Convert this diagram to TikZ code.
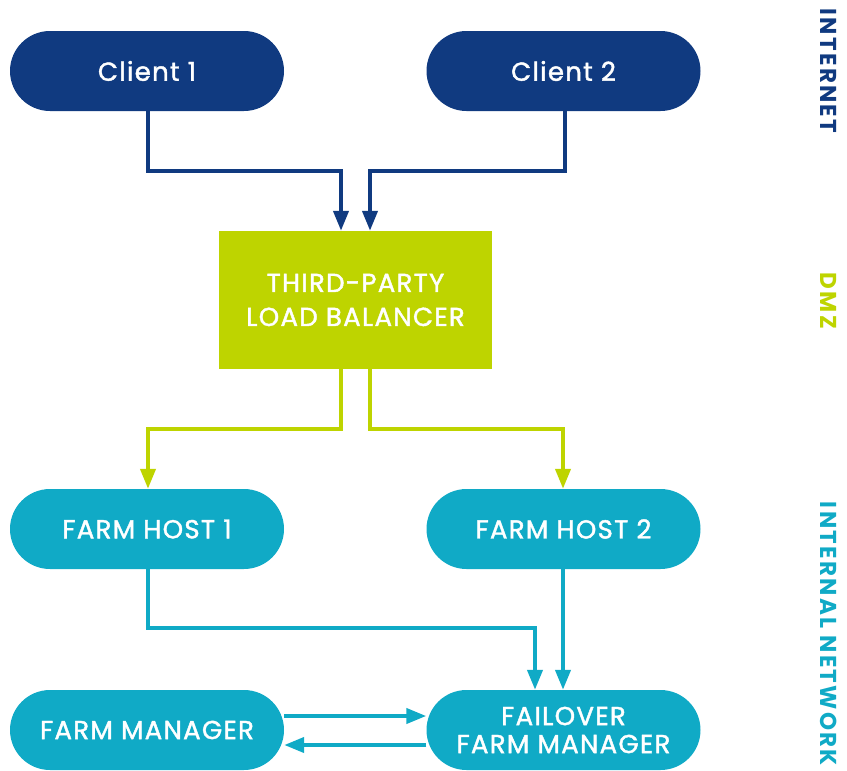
\documentclass[tikz,border=0pt]{standalone}
\usepackage{fontspec}
\setmainfont{Poppins}
\usetikzlibrary{arrows.meta}
\definecolor{netblue}{RGB}{16,58,128}
\definecolor{dmzgreen}{RGB}{190,212,0}
\definecolor{lanteal}{RGB}{16,170,198}
\newfontfamily\boxfont[LetterSpace=5,FakeBold=1.6]{Poppins}
\newfontfamily\zonefont[LetterSpace=10]{Poppins}
\tikzset{
  pill/.style={rounded corners=40pt, minimum width=274pt, minimum height=80pt,
    inner sep=0pt, text=white, font=\boxfont\fontsize{26}{28}\selectfont, align=center},
  lbbox/.style={minimum width=273pt, minimum height=138pt, inner sep=0pt,
    text=white, font=\boxfont\fontsize{26}{34}\selectfont, align=center, fill=dmzgreen},
  link/.style={line width=4pt, -{Triangle[length=20pt,width=15pt]}},
  zone/.style={rotate=-90, font=\zonefont\bfseries\fontsize{23}{25}\selectfont}
}
\begin{document}
\begin{tikzpicture}[x=1pt,y=-1pt]
  \useasboundingbox (0,0) rectangle (847,771);
  % boxes
  \node[pill, fill=netblue] (c1) at (147,71) {Client 1};
  \node[pill, fill=netblue] (c2) at (563.5,71) {Client 2};
  \node[lbbox] (lb) at (355.5,300) {THIRD-PARTY\\LOAD BALANCER};
  \node[pill, fill=lanteal] (h1) at (147,529) {FARM HOST 1};
  \node[pill, fill=lanteal] (h2) at (563.5,529) {FARM HOST 2};
  \node[pill, fill=lanteal] (fm) at (147,730) {FARM MANAGER};
  \node[pill, fill=lanteal] (ffm) at (563.5,730) {FAILOVER\\FARM MANAGER};
  % zone labels
  \node[zone, text=netblue] (zi) at (829,71) {INTERNET};
  \node[zone, text=dmzgreen] (zd) at (829,301) {DMZ};
  \node[zone, text=lanteal] (zn) at (829,634) {INTERNAL NETWORK};
  % internet to load balancer
  \draw[link, draw=netblue] (c1.south -| 148,0) |- (341,171) -- (lb.north -| 341,0);
  \draw[link, draw=netblue] (c2.south -| 565,0) |- (370,171) -- (lb.north -| 370,0);
  % load balancer to farm hosts
  \draw[link, draw=dmzgreen] (lb.south -| 341,0) |- (148,429) -- (h1.north -| 148,0);
  \draw[link, draw=dmzgreen] (lb.south -| 370,0) |- (563,429) -- (h2.north -| 563,0);
  % farm hosts to failover manager
  \draw[link, draw=lanteal] (h1.south -| 148,0) |- (535,628) -- (ffm.north -| 535,0);
  \draw[link, draw=lanteal] (h2.south -| 563,0) -- (ffm.north -| 563,0);
  % manager synchronisation
  \draw[link, draw=lanteal] (fm.east |- 0,716) -- (ffm.west |- 0,716);
  \draw[link, draw=lanteal] (ffm.west |- 0,745) -- (fm.east |- 0,745);
\end{tikzpicture}
\end{document}
